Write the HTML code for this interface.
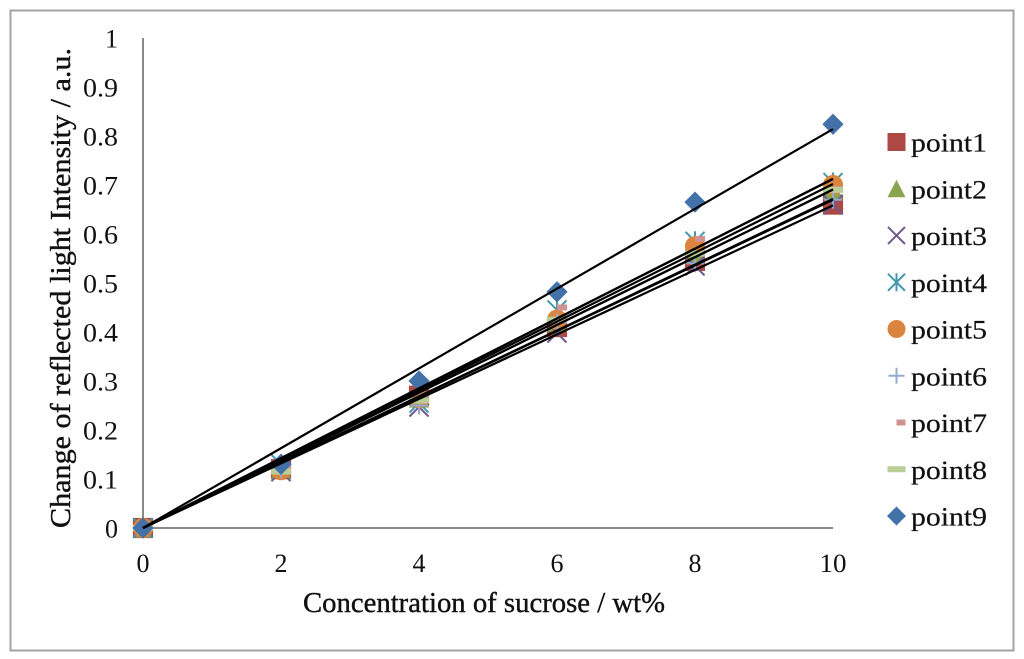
<!DOCTYPE html>
<html>
<head>
<meta charset="utf-8">
<title>Change of reflected light intensity vs sucrose concentration</title>
<style>
html,body{margin:0;padding:0;background:#fff}
svg{display:block}
text{font-family:"Liberation Serif",serif;fill:#111}
</style>
</head>
<body>
<svg id="chart" xmlns="http://www.w3.org/2000/svg" width="1024" height="659" viewBox="0 0 1024 659">
<rect x="10.5" y="10.5" width="1003" height="640" fill="#fff" stroke="#a3a3a3" stroke-width="2"></rect>
</svg>
<script>
const categories = [0, 2, 4, 6, 8, 10];
const seriesNames = ['point1','point2','point3','point4','point5','point6','point7','point8','point9'];
const point1 = [0, 0.12, 0.27, 0.41, 0.545, 0.66];
const point2 = [0, 0.12, 0.265, 0.42, 0.56, 0.69];
const point3 = [0, 0.115, 0.247, 0.398, 0.535, 0.66];
const point4 = [0, 0.13, 0.255, 0.445, 0.585, 0.705];
const point5 = [0, 0.118, 0.265, 0.425, 0.575, 0.70];
const point6 = [0, 0.12, 0.25, 0.42, 0.54, 0.67];
const point7 = [0, 0.125, 0.27, 0.45, 0.59, 0.692];
const point8 = [0, 0.115, 0.26, 0.425, 0.56, 0.69];
const point9 = [0, 0.13, 0.30, 0.482, 0.665, 0.824];
const yTickLabels = ['0','0.1','0.2','0.3','0.4','0.5','0.6','0.7','0.8','0.9','1'];
const xTickLabels = ['0','2','4','6','8','10'];

const allSeries = [point1, point2, point3, point4, point5, point6, point7, point8, point9];
const colors = ['#ad4845','#89a54e','#71588f','#4198af','#db843d','#93a9cf','#d19392','#b9cd96','#4272a8'];
const svg = document.getElementById('chart');
const NS = 'http://www.w3.org/2000/svg';
const xScale = v => 143 + (v / 10) * 690;
const yScale = v => 528 - v * 490;

function make(tag, props, parent) {
  const el = document.createElementNS(NS, tag);
  for (const k in props) el.setAttribute(k, props[k]);
  (parent || svg).appendChild(el);
  return el;
}

function label(str, x, y, size, anchor, width) {
  const t = make('text', {x: x, y: y, 'font-size': size, 'text-anchor': anchor, textLength: width, lengthAdjust: 'spacingAndGlyphs'});
  t.textContent = str;
  return t;
}

function marker(i, cx, cy, parent, s) {
  const c = colors[i];
  const line = (x1, y1, x2, y2, w) => make('line', {x1: cx + x1 * s, y1: cy + y1 * s, x2: cx + x2 * s, y2: cy + y2 * s, stroke: c, 'stroke-width': w}, parent);
  if (i === 0) make('rect', {x: cx - 9 * s, y: cy - 9 * s, width: 18 * s, height: 18 * s, fill: c}, parent);
  if (i === 1) make('polygon', {points: `${cx - 9 * s},${cy + 8.5 * s} ${cx + 9 * s},${cy + 8.5 * s} ${cx},${cy - 9 * s}`, fill: c}, parent);
  if (i === 2) { line(-8.5, -8.5, 8.5, 8.5, 2); line(-8.5, 8.5, 8.5, -8.5, 2); }
  if (i === 3) { line(-8.5, -8.5, 8.5, 8.5, 2); line(-8.5, 8.5, 8.5, -8.5, 2); line(0, -9, 0, 9, 2); }
  if (i === 4) make('circle', {cx: cx, cy: cy, r: 9 * s, fill: c}, parent);
  if (i === 5) { line(-8, 0, 8, 0, 2); line(0, -8, 0, 8, 2); }
  if (i === 6) make('rect', {x: cx, y: cy - 3, width: 9 * s, height: 6, fill: c}, parent);
  if (i === 7) make('rect', {x: cx - 9 * s, y: cy - 3, width: 18 * s, height: 6, fill: c}, parent);
  if (i === 8) make('polygon', {points: `${cx - 9.5 * s},${cy} ${cx},${cy - 9.5 * s} ${cx + 9.5 * s},${cy} ${cx},${cy + 9.5 * s}`, fill: c}, parent);
}

/* axes */
const yAxis = make('line', {x1: 143, y1: yScale(1), x2: 143, y2: yScale(0) + 1, stroke: '#8a8a8a', 'stroke-width': 2});


const xAxis = make('line', {x1: 143, y1: yScale(0), x2: xScale(10), y2: yScale(0), stroke: '#8a8a8a', 'stroke-width': 2});



/* tick labels */
yTickLabels.forEach(function (s, i) {
  const w = s.length > 1 ? 35 : 13;
  const t = label(s, 118, yScale(Number(s)) + 9.5, 26, 'end', w);
  
  
});
xTickLabels.forEach(function (s, i) {
  const t = label(s, xScale(categories[i]), 572, 26, 'middle', s.length > 1 ? 27 : 13);
  
  
});

/* axis titles */
const xTitle = label('Concentration of sucrose / wt%', 303, 612, 28, 'start', 362);


xTitle.setAttribute('stroke', '#111');
xTitle.setAttribute('stroke-width', '0.4');
const yTitle = label('Change of reflected light Intensity / a.u.', 0, 0, 28, 'start', 480);
yTitle.setAttribute('transform', 'translate(70,528) rotate(-90)');


yTitle.setAttribute('stroke', '#111');
yTitle.setAttribute('stroke-width', '0.4');

/* markers */
allSeries.forEach(function (vals, i) {
  const g = make('g', {});
  
  
  vals.forEach(function (v, j) {
    marker(i, xScale(categories[j]), yScale(v), g, 1.12);
  });
});

/* least-squares trendlines through the origin, computed from the series */
allSeries.forEach(function (vals, i) {
  let sxy = 0, sxx = 0;
  vals.forEach(function (v, j) {
    sxy += categories[j] * v;
    sxx += categories[j] * categories[j];
  });
  const slope = sxy / sxx;
  const xMax = categories[categories.length - 1];
  const tl = make('line', {x1: xScale(0), y1: yScale(0), x2: xScale(xMax), y2: yScale(slope * xMax), stroke: '#000', 'stroke-width': 2.2});
  
  
});

/* legend */
const legendRowStep = 46.75;
seriesNames.forEach(function (name, i) {
  const y = 142 + i * legendRowStep;
  const g = make('g', {});
  
  
  marker(i, 896.5, y, g, 1);
  const t = make('text', {x: 911, y: y + 9.5, 'font-size': 26, textLength: 76, lengthAdjust: 'spacingAndGlyphs', stroke: '#111', 'stroke-width': 0.2}, g);
  t.textContent = name;
});
</script>
</body>
</html>
